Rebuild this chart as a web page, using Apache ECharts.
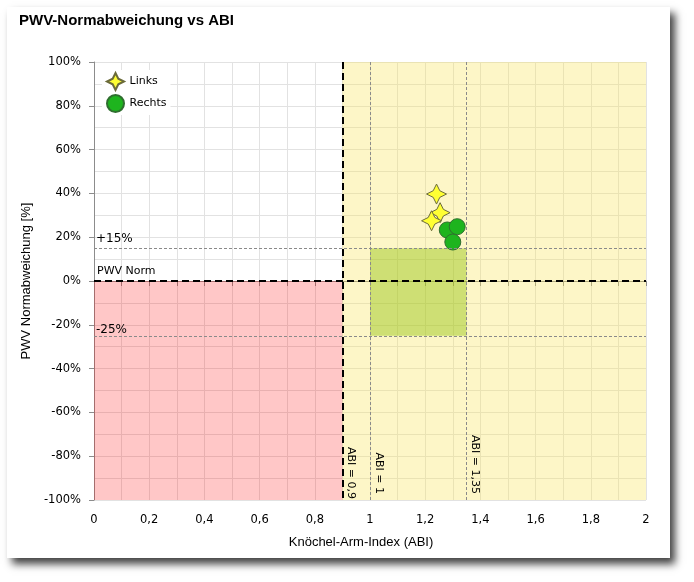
<!DOCTYPE html>
<html>
<head>
<meta charset="utf-8">
<script src="https://cdn.jsdelivr.net/npm/echarts@6/dist/echarts.min.js"></script>
<style>
  html, body { margin: 0; padding: 0; background: #fff; }
  #card { position: absolute; left: 7px; top: 7px; width: 663px; height: 551px; background: #fff;
          box-shadow: 5px 6px 8px rgba(0,0,0,0.75); }
  #chart { position: absolute; left: 0; top: 0; width: 694px; height: 582px; }
</style>
</head>
<body>
<div id="card"></div>
<div id="chart"></div>
<script>
// measured points
const linksABI = [1.241, 1.254, 1.223];
const linksPWV = [39.7, 31.2, 27.5];
const rechtsABI = [1.280, 1.316, 1.300];
const rechtsPWV = [23.3, 24.8, 17.8];

// reference values
const abiLimits = [0.9, 1, 1.35];
const pwvLimits = [15, 0, -25];

const fmtNum = v => String(Math.round(v * 100) / 100).replace('.', ',');
const star = 'path://M0,-10 L3.3,-3.3 L10,0 L3.3,3.3 L0,10 L-3.3,3.3 L-10,0 L-3.3,-3.3 Z';

const thinDash = { color: '#8a8a8a', width: 1, type: [3, 2] };
const boldDash = { color: '#000', width: 2, type: [7, 4] };

const chart = echarts.init(document.getElementById('chart'));
chart.setOption({
  animation: false,
  textStyle: { fontFamily: 'DejaVu Sans' },
  title: {
    text: 'PWV-Normabweichung vs ABI',
    left: 14, top: 8,
    textStyle: { fontSize: 15, fontWeight: 'bold', color: '#000', fontFamily: 'Liberation Sans' }
  },
  legend: {
    orient: 'vertical', left: 102, top: 70,
    itemWidth: 18, itemHeight: 17, itemGap: 3,
    backgroundColor: '#fff', padding: [2, 4, 2, 4],
    textStyle: { fontSize: 11, color: '#000' },
    data: ['Links', 'Rechts']
  },
  grid: { left: 94, right: 48, top: 62, bottom: 82 },
  xAxis: {
    type: 'value', min: 0, max: 2, interval: 0.2,
    name: 'Knöchel-Arm-Index (ABI)', nameLocation: 'middle', nameGap: 36,
    nameTextStyle: { fontSize: 13, color: '#000', fontFamily: 'Liberation Sans', padding: [0, 18, 0, 0] },
    axisLine: { lineStyle: { color: '#8c8c8c' } },
    axisTick: { show: true, length: 5, lineStyle: { color: '#8c8c8c' } },
    minorTick: { show: true, splitNumber: 2, length: 5, lineStyle: { color: '#8c8c8c' } },
    axisLabel: { fontSize: 11.5, color: '#000', margin: 14, formatter: fmtNum },
    splitLine: { show: true, lineStyle: { color: '#e2e2e2' } },
    minorSplitLine: { show: true, lineStyle: { color: '#e2e2e2' } }
  },
  yAxis: {
    type: 'value', min: -100, max: 100, interval: 20,
    name: 'PWV Normabweichung [%]', nameLocation: 'middle', nameGap: 55,
    nameTextStyle: { fontSize: 13, color: '#000', fontFamily: 'Liberation Sans' },
    axisLine: { show: true, lineStyle: { color: '#8c8c8c' } },
    axisTick: { show: true, length: 5, lineStyle: { color: '#8c8c8c' } },
    minorTick: { show: false, splitNumber: 2 },
    axisLabel: { fontSize: 11.5, color: '#000', margin: 13, formatter: v => v + '%' },
    splitLine: { show: true, lineStyle: { color: '#e2e2e2' } },
    minorSplitLine: { show: true, lineStyle: { color: '#e2e2e2' } }
  },
  series: [
    {
      name: 'Zonen', type: 'scatter', data: [], silent: true, z: 1,
      markArea: {
        silent: true,
        data: [
          [{ coord: [abiLimits[0], -100], itemStyle: { color: 'rgba(250,228,95,0.35)' } }, { coord: [2, 100] }],
          [{ coord: [0, -100], itemStyle: { color: 'rgba(255,0,0,0.22)' } }, { coord: [abiLimits[0], 0] }],
          [{ coord: [abiLimits[1], pwvLimits[2]], itemStyle: { color: 'rgba(140,190,0,0.42)' } }, { coord: [abiLimits[2], pwvLimits[0]] }]
        ]
      },
      markLine: {
        silent: true, symbol: 'none',
        label: { color: '#000', fontSize: 11, fontFamily: 'DejaVu Sans' },
        data: [
          { yAxis: pwvLimits[0], lineStyle: thinDash,
            label: { formatter: '+15%', position: 'insideStartTop', distance: [2, 3], fontSize: 12 } },
          { yAxis: pwvLimits[2], lineStyle: thinDash,
            label: { formatter: '-25%', position: 'insideStartTop', distance: [2, 0], fontSize: 12 } },
          [{ coord: [abiLimits[1], 100], lineStyle: thinDash,
             label: { formatter: 'ABI = 1', position: 'insideEndTop', distance: [6, 3] } },
           { coord: [abiLimits[1], -100] }],
          [{ coord: [abiLimits[2], 100], lineStyle: thinDash,
             label: { formatter: 'ABI = 1,35', position: 'insideEndTop', distance: [6, 3] } },
           { coord: [abiLimits[2], -100] }],
          { yAxis: pwvLimits[1], lineStyle: boldDash,
            label: { formatter: 'PWV Norm', position: 'insideStartTop', distance: [3, 4] } },
          [{ coord: [abiLimits[0], 100], lineStyle: boldDash,
             label: { formatter: 'ABI = 0,9', position: 'insideEndTop', distance: [1, 3] } },
           { coord: [abiLimits[0], -100] }]
        ]
      }
    },
    {
      name: 'Links', type: 'scatter', z: 3,
      symbol: star, symbolSize: 20,
      itemStyle: { color: '#ffff33', borderColor: '#6b6b3a', borderWidth: 1, opacity: 1 },
      data: linksABI.map((x, i) => [x, linksPWV[i]])
    },
    {
      name: 'Rechts', type: 'scatter', z: 3,
      symbol: 'circle', symbolSize: 16,
      itemStyle: { color: '#1eb41e', borderColor: '#2f6e2f', borderWidth: 1, opacity: 1 },
      data: rechtsABI.map((x, i) => [x, rechtsPWV[i]])
    }
  ]
});
</script>
</body>
</html>
